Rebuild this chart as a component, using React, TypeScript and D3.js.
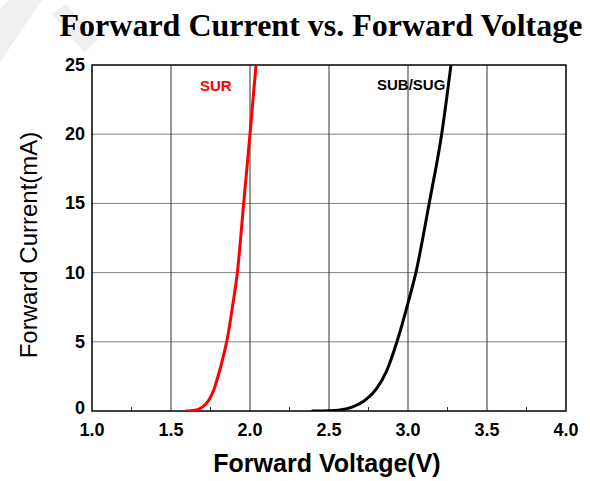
import React from "react";
import * as d3 from "d3";

const xTicks = [1.0, 1.5, 2.0, 2.5, 3.0, 3.5, 4.0];
const xMinorTicks = [1.25, 1.75, 2.25, 2.75, 3.25, 3.75];
const yTicks = [0, 5, 10, 15, 20, 25];

const surVoltage = [1.59, 1.65, 1.7, 1.74, 1.77, 1.8, 1.83, 1.856, 1.89, 1.92, 1.96, 2.0, 2.038];
const surCurrent = [0, 0.05, 0.3, 0.8, 1.5, 2.6, 3.9, 5.2, 7.6, 10, 15, 20, 25];

const subVoltage = [2.39, 2.5, 2.57, 2.65, 2.72, 2.8, 2.865, 2.93, 3.0, 3.05, 3.134, 3.213, 3.272];
const subCurrent = [0, 0.02, 0.08, 0.3, 0.7, 1.6, 2.9, 5, 7.8, 10, 15, 20, 25];

const W = 590;
const H = 481;
const L = 92, R = 566, T = 65, B = 411;

export default function App() {
  const x = d3.scaleLinear().domain([1, 4]).range([L, R]);
  const y = d3.scaleLinear().domain([0, 25]).range([B, T]);
  const line = d3
    .line<[number, number]>()
    .x((d) => x(d[0]))
    .y((d) => y(d[1]))
    .curve(d3.curveMonotoneX);
  const sur = surVoltage.map((v, i) => [v, surCurrent[i]] as [number, number]);
  const sub = subVoltage.map((v, i) => [v, subCurrent[i]] as [number, number]);

  return (
    <svg
      width={W}
      height={H}
      style={{ position: "absolute", left: 0, top: 0, background: "#fff" }}
    >
      <g fill="#efefef">
        <polygon points="0,8 10,0 42,0 0,62" />
        <polygon points="52,14 66,4 98,40 84,52" />
      </g>
      <text
        x={321}
        y={36}
        textAnchor="middle"
        fontFamily="'Liberation Serif', 'Times New Roman', serif"
        fontWeight="bold"
        fontSize={32}
        fill="#000"
      >
        Forward Current vs. Forward Voltage
      </text>
      <defs>
        <clipPath id="plot">
          <rect x={L} y={T} width={R - L} height={B - T} />
        </clipPath>
      </defs>
      {yTicks.slice(1, -1).map((t) => (
        <line key={"h" + t} x1={L} x2={R} y1={y(t)} y2={y(t)} stroke="#808080" strokeWidth={1} />
      ))}
      {xTicks.slice(1, -1).map((t) => (
        <line key={"v" + t} x1={x(t)} x2={x(t)} y1={T} y2={B} stroke="#333" strokeWidth={1} />
      ))}
      {xMinorTicks.map((t) => (
        <line key={"m" + t} x1={x(t)} x2={x(t)} y1={B} y2={B - 4} stroke="#333" strokeWidth={1} />
      ))}
      <rect x={L} y={T} width={R - L} height={B - T} fill="none" stroke="#000" strokeWidth={1.5} />
      <g clipPath="url(#plot)">
        <path d={line(sur) || ""} fill="none" stroke="#ff0000" strokeWidth={3} />
        <path d={line(sub) || ""} fill="none" stroke="#000" strokeWidth={3} />
      </g>
      <g fontFamily="'Liberation Sans', Arial, sans-serif" fontWeight="bold" fill="#000">
        {yTicks.map((t) => (
          <text key={"yl" + t} x={L - 7} y={y(t) + (t === 0 ? 3 : 6)} textAnchor="end" fontSize={18}>
            {t}
          </text>
        ))}
        {xTicks.map((t) => (
          <text key={"xl" + t} x={x(t)} y={B + 25} textAnchor="middle" fontSize={18}>
            {t.toFixed(1)}
          </text>
        ))}
      </g>
      <text
        x={200}
        y={91}
        fontFamily="'Liberation Sans', Arial, sans-serif"
        fontWeight="bold"
        fontSize={15}
        fill="#ff0000"
      >
        SUR
      </text>
      <text
        x={377}
        y={90}
        fontFamily="'Liberation Sans', Arial, sans-serif"
        fontWeight="bold"
        fontSize={15}
        fill="#000"
      >
        SUB/SUG
      </text>
      <text
        transform={`translate(37, 245) rotate(-90)`}
        textAnchor="middle"
        fontFamily="'Liberation Sans', Arial, sans-serif"
        fontSize={24}
        fill="#000"
      >
        Forward Current(mA)
      </text>
      <text
        x={327}
        y={472}
        textAnchor="middle"
        fontFamily="'Liberation Sans', Arial, sans-serif"
        fontWeight="bold"
        fontSize={25}
        fill="#000"
      >
        Forward Voltage(V)
      </text>
    </svg>
  );
}
